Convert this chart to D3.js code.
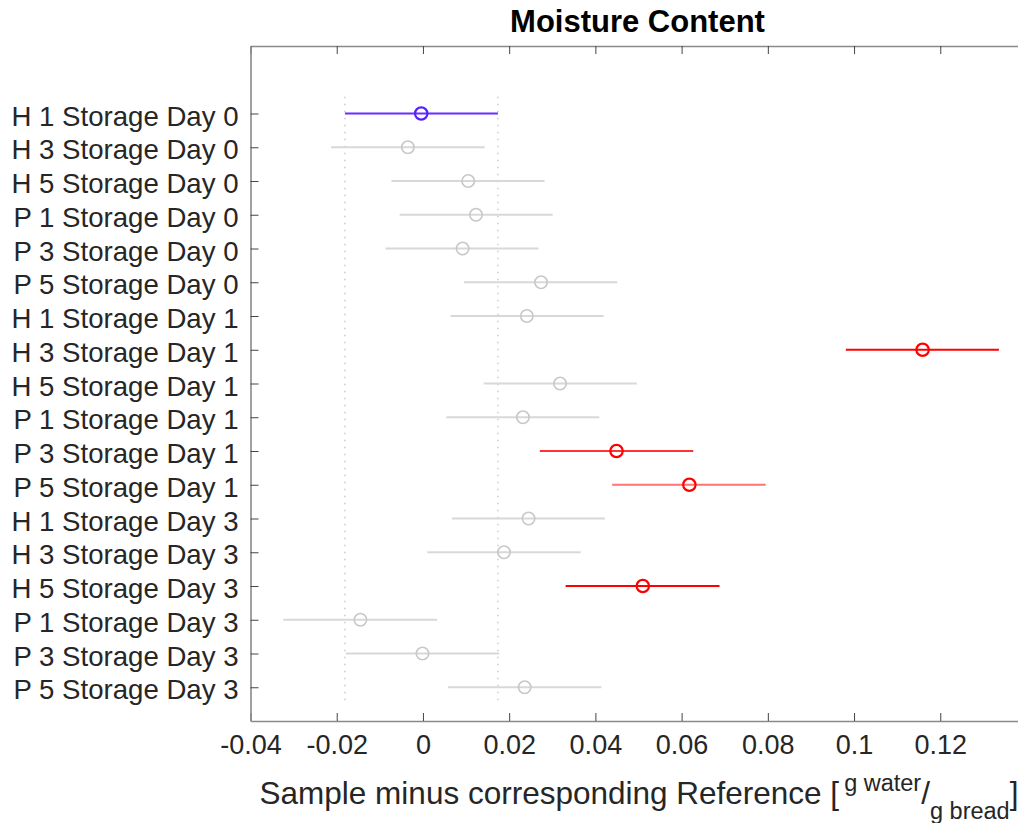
<!DOCTYPE html>
<html>
<head>
<meta charset="utf-8">
<script src="https://cdn.jsdelivr.net/npm/d3@7"></script>
<style>
  html, body { margin: 0; padding: 0; background: #fff; }
  svg { display: block; font-family: "Liberation Sans", Arial, Helvetica, sans-serif; }
</style>
</head>
<body>
<svg id="chart" width="1018" height="823"></svg>
<script>
// ---- data ----
const categories = [
  "H 1 Storage Day 0", "H 3 Storage Day 0", "H 5 Storage Day 0",
  "P 1 Storage Day 0", "P 3 Storage Day 0", "P 5 Storage Day 0",
  "H 1 Storage Day 1", "H 3 Storage Day 1", "H 5 Storage Day 1",
  "P 1 Storage Day 1", "P 3 Storage Day 1", "P 5 Storage Day 1",
  "H 1 Storage Day 3", "H 3 Storage Day 3", "H 5 Storage Day 3",
  "P 1 Storage Day 3", "P 3 Storage Day 3", "P 5 Storage Day 3"
];
const meanDiff = [
  -0.0004, -0.0035, 0.0105, 0.0123, 0.0092, 0.0274,
  0.0241, 0.1159, 0.0318, 0.0232, 0.0449, 0.0618,
  0.0245, 0.0188, 0.0510, -0.0145, -0.0001, 0.0236
];
const ciLower = [
  -0.0181, -0.0213, -0.0073, -0.0054, -0.0087, 0.0095,
  0.0064, 0.0981, 0.0141, 0.0054, 0.0271, 0.0439,
  0.0067, 0.0010, 0.0331, -0.0324, -0.0179, 0.0058
];
const ciUpper = [
  0.0174, 0.0143, 0.0282, 0.0301, 0.0268, 0.0451,
  0.0419, 0.1336, 0.0496, 0.0409, 0.0627, 0.0795,
  0.0422, 0.0366, 0.0688, 0.0033, 0.0177, 0.0414
];
// group: "ref" = reference, "ns" = not different, "sig" = significantly different
const group = [
  "ref", "ns", "ns", "ns", "ns", "ns",
  "ns", "sig", "ns", "ns", "sig", "sig",
  "ns", "ns", "sig", "ns", "ns", "ns"
];
const xTicks = [-0.04, -0.02, 0, 0.02, 0.04, 0.06, 0.08, 0.1, 0.12];
const xDomain = [-0.04, 0.14];
const titleText = "Moisture Content";

// ---- layout ----
const svg = d3.select("#chart");
const mLeft = 250.5, mRight = 1026.5, mTop = 46, mBottom = 721;

const x = d3.scaleLinear().domain(xDomain).range([mLeft, mRight]);
const y = d3.scaleLinear().domain([0, categories.length + 2]).range([mTop, mBottom]);
const rowPos = i => i + 2;

// reference interval (dotted lines)
const refIdx = group.indexOf("ref");
[ciLower[refIdx], ciUpper[refIdx]].forEach(v => {
  svg.append("line")
    .attr("x1", x(v)).attr("x2", x(v))
    .attr("y1", y(1.5)).attr("y2", y(categories.length + 1.5))
    .attr("stroke", "#c4c4c4").attr("stroke-width", 1.3)
    .attr("stroke-dasharray", "1.5,5.5");
});

// axes box
const gx = svg.append("g").attr("transform", `translate(0,${mBottom})`)
  .call(d3.axisBottom(x).tickValues(xTicks).tickFormat(d => String(+d.toFixed(2))).tickSizeInner(-8).tickSizeOuter(0).tickPadding(14));
const gxt = svg.append("g").attr("transform", `translate(0,${mTop})`)
  .call(d3.axisTop(x).tickValues(xTicks).tickFormat("").tickSizeInner(-8).tickSizeOuter(0));
const yBand = categories.map((c, i) => rowPos(i));
const gy = svg.append("g").attr("transform", `translate(${mLeft},0)`)
  .call(d3.axisLeft(y).tickValues(yBand).tickFormat((d, i) => categories[i]).tickSizeInner(-8).tickSizeOuter(0).tickPadding(12));
const gyr = svg.append("g").attr("transform", `translate(${mRight},0)`)
  .call(d3.axisRight(y).tickValues(yBand).tickFormat("").tickSizeInner(-8).tickSizeOuter(0));

svg.selectAll("g").attr("font-family", null);
[gx, gxt, gy, gyr].forEach(g => {
  g.select(".domain").attr("stroke", "#8a8a8a").attr("stroke-width", 1.6);
  g.selectAll(".tick line").attr("stroke", "#444").attr("stroke-width", 1);
  g.selectAll("text").attr("fill", "#262626").style("font-size", "27px");
});
gy.selectAll(".tick text").style("font-size", "27.6px").attr("dy", "0.42em");
gx.selectAll(".tick text").attr("dy", "0.71em");

// error bars
const lineColor = g => g === "ref" ? "#6a2cff" : g === "sig" ? "#ff0000" : "#d8d8d8";
const markColor = g => g === "ref" ? "#5522ff" : g === "sig" ? "#ff0000" : "#c8c8c8";
const lineAlpha = { 10: 0.8, 11: 0.55 };

const rows = categories.map((c, i) => ({ i, c, m: meanDiff[i], lo: ciLower[i], hi: ciUpper[i], g: group[i] }));
const rg = svg.append("g");
rg.selectAll("line.err").data(rows).join("line")
  .attr("class", "err")
  .attr("x1", d => x(d.lo)).attr("x2", d => x(d.hi))
  .attr("y1", d => y(rowPos(d.i))).attr("y2", d => y(rowPos(d.i)))
  .attr("stroke", d => lineColor(d.g))
  .attr("stroke-opacity", d => d.g === "sig" && lineAlpha[d.i] ? lineAlpha[d.i] : 1)
  .attr("stroke-width", 2);
rg.selectAll("circle").data(rows).join("circle")
  .attr("cx", d => x(d.m)).attr("cy", d => y(rowPos(d.i)))
  .attr("r", 6.2)
  .attr("fill", "none")
  .attr("stroke", d => markColor(d.g))
  .attr("stroke-width", d => d.g === "ns" ? 1.6 : 2.2);

// title
svg.append("text")
  .attr("x", (mLeft + mRight) / 2 - 1).attr("y", 32)
  .attr("text-anchor", "middle")
  .style("font-size", "31px").style("font-weight", "bold")
  .attr("fill", "#000")
  .text(titleText);

// x label with super/subscript
const xl = svg.append("text")
  .attr("x", (mLeft + mRight) / 2 + 0.5).attr("y", 804)
  .attr("text-anchor", "middle")
  .attr("fill", "#262626")
  .style("font-size", "31.5px");
xl.append("tspan").text("Sample minus corresponding Reference [");
xl.append("tspan").attr("dx", 5).attr("dy", -13).style("font-size", "23.5px").text("g water");
xl.append("tspan").attr("dy", 13).text("/");
xl.append("tspan").attr("dy", 15).style("font-size", "23.5px").text("g bread");
xl.append("tspan").attr("dy", -15).text("]");
</script>
</body>
</html>
